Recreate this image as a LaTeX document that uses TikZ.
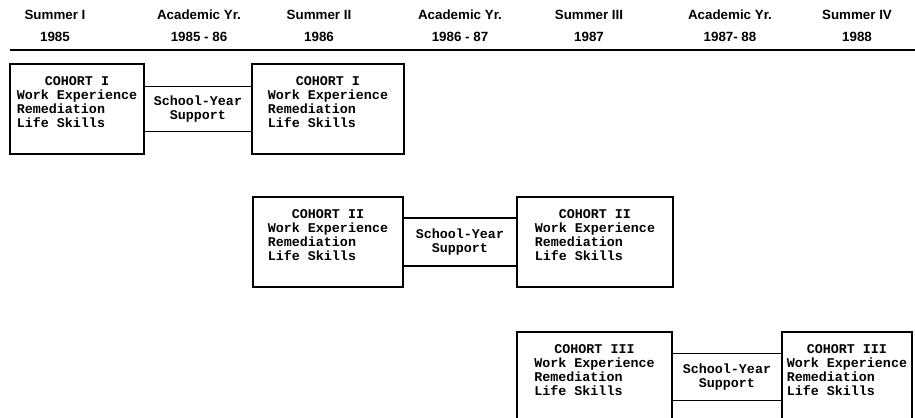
\documentclass[tikz,border=0pt]{standalone}
\usepackage{fontspec}
\usepackage{array}
\newfontfamily\cohortfont{Liberation Mono}
\newfontfamily\headfont{Liberation Sans}
\usetikzlibrary{positioning}

\tikzset{
  cohort/.style={draw, line width=1pt, inner sep=0pt, outer sep=0pt, minimum height=1.8cm,
    font=\cohortfont\bfseries\fontsize{7.6}{7.94}\selectfont},
  support/.style={draw, line width=1pt, inner sep=0pt, outer sep=0pt, align=center,
    font=\cohortfont\bfseries\fontsize{7.6}{7.94}\selectfont},
  heading/.style={inner sep=0pt, font=\headfont\bfseries\fontsize{7.6}{9}\selectfont}
}
\newcommand{\cohortlist}[1]{\begin{tabular}{@{}l@{}}\multicolumn{1}{@{}c@{}}{COHORT #1}\\Work Experience\\Remediation\\Life Skills\\[0.2cm]\end{tabular}}

\begin{document}
\begin{tikzpicture}[x=0.02cm, y=-0.02cm]
			\clip (0,0) rectangle (915,418);
			% time line
			\foreach \i/\x/\t/\yr in {1/55/Summer I/1985, 2/199/Academic Yr./1985 - 86, 3/319/Summer II/1986,
				4/460/Academic Yr./1986 - 87, 5/589/Summer III/1987, 6/730/Academic Yr./1987- 88, 7/857/Summer IV/1988} {
				\node[heading] (term\i) at (\x,15) {\t};
				\node[heading] (year\i) at (\x,37) {\yr};
			}
			\coordinate (rulestart) at (10,50);
			\coordinate (ruleend) at (915,50);
			\draw[line width=1.1pt] (rulestart) -- (ruleend);

			% cohort I
			\node[cohort, minimum width=2.68cm, anchor=north west] (c1a) at (10,64) {\cohortlist{I}};
			\node[support, minimum width=2.16cm, minimum height=0.9cm, right=0pt of c1a] (s1) {School-Year\\Support};
			\node[cohort, minimum width=3.04cm, right=0pt of s1] (c1b) {\cohortlist{I}};

			% cohort II
			\node[cohort, minimum width=3.0cm, anchor=north west] (c2a) at (253,197) {\cohortlist{II}};
			\node[support, minimum width=2.28cm, minimum height=0.96cm, right=0pt of c2a] (s2) {School-Year\\Support};
			\node[cohort, minimum width=3.12cm, right=0pt of s2] (c2b) {\cohortlist{II}};

			% cohort III
			\node[cohort, minimum width=3.1cm, anchor=north west] (c3a) at (517,332) {\cohortlist{III}};
			\node[support, minimum width=2.2cm, minimum height=0.94cm, right=0pt of c3a] (s3) {School-Year\\Support};
			\node[cohort, minimum width=2.6cm, right=0pt of s3] (c3b) {\cohortlist{III}};
\end{tikzpicture}
\end{document}
